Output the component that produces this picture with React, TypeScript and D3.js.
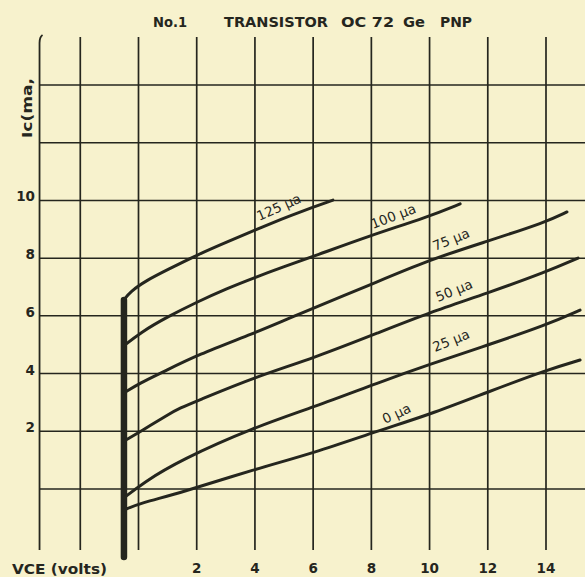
import React from "react";
import * as d3 from "d3";

const W = 585;
const H = 577;

// axis / grid values
const gridVolts = [-2, 0, 2, 4, 6, 8, 10, 12, 14];
const gridMa = [0, 2, 4, 6, 8, 10, 12, 14];
const xTickLabels = [2, 4, 6, 8, 10, 12, 14];
const yTickLabels = [2, 4, 6, 8, 10];
const frameVolts = -3.4;
const gridTopMa = 15.66;
const gridBottomMa = -2.11;

// saturation (knee) line
const kneeVolts = -0.5;
const kneeMa = [-2.36, 6.55];

// collector curves: [VCE volts, Ic mA]
const curve125 = [[-0.5, 6.55], [-0.3, 6.83], [0.29, 7.24], [0.98, 7.59], [2.01, 8.11], [3.04, 8.56], [4.0, 8.97], [4.96, 9.37], [5.55, 9.6], [6.68, 10.01]];
const curve100 = [[-0.5, 4.96], [0.05, 5.41], [0.98, 5.96], [2.01, 6.48], [3.04, 6.95], [4.0, 7.33], [4.96, 7.69], [6.06, 8.08], [7.95, 8.78], [9.95, 9.43], [11.05, 9.88]];
const curve75 = [[-0.5, 3.33], [0.05, 3.67], [0.84, 4.05], [2.01, 4.64], [4.0, 5.41], [5.2, 5.93], [7.95, 7.07], [9.95, 7.93], [12.0, 8.59], [14.0, 9.25], [14.72, 9.6]];
const curve50 = [[-0.5, 1.66], [0.15, 2.04], [0.98, 2.56], [1.43, 2.81], [2.01, 3.05], [4.0, 3.88], [6.03, 4.54], [8.3, 5.44], [9.95, 6.1], [12.0, 6.79], [14.0, 7.52], [15.1, 8.0]];
const curve25 = [[-0.5, -0.31], [0.15, 0.21], [1.43, 1.0], [4.0, 2.15], [6.03, 2.84], [8.3, 3.71], [9.95, 4.3], [12.0, 4.99], [14.0, 5.68], [15.17, 6.2]];
const curve0 = [[-0.5, -0.73], [0.05, -0.49], [1.43, -0.14], [4.0, 0.69], [6.03, 1.25], [8.3, 2.04], [9.95, 2.56], [12.0, 3.36], [14.0, 4.12], [15.17, 4.47]];
const curves = [curve125, curve100, curve75, curve50, curve25, curve0];

// curve labels: text, baseline start (volts, mA), angle
const labelTexts = ["125 μa", "100 μa", "75 μa", "50 μa", "25 μa", "0 μa"];
const labelVolts = [4.15, 8.06, 10.19, 10.29, 10.19, 8.47];
const labelMa = [9.29, 9.01, 8.25, 6.48, 4.75, 2.25];
const labelAngles = [-24, -21, -22, -22, -22, -25];

const titleParts = ["No.1", "TRANSISTOR", "OC 72", "Ge", "PNP"];
const titleX = [153, 224, 341, 403, 440];
const titleW = [34, 104, 53, 22, 32];

const INK = "#25261e";
const PAPER = "#f7f2cd";
const FONT = "'DejaVu Sans', sans-serif";

export default function App() {
  const x = d3.scaleLinear().domain([0, 14]).range([138.5, 546]);
  const y = d3.scaleLinear().domain([0, 14]).range([489, 85]);
  const line = d3
    .line<number[]>()
    .x((d) => x(d[0]))
    .y((d) => y(d[1]))
    .curve(d3.curveBasis);

  return (
    <svg
      width={W}
      height={H}
      style={{ position: "absolute", left: 0, top: 0, background: PAPER }}
    >
      <rect x={0} y={0} width={W} height={H} fill={PAPER} />
      {/* title */}
      {titleParts.map((t, i) => (
        <text
          key={t}
          x={titleX[i]}
          y={27}
          fontFamily={FONT}
          fontSize={14}
          fill={INK}
          fontWeight={600}
          textLength={titleW[i]}
          lengthAdjust="spacingAndGlyphs"
        >
          {t}
        </text>
      ))}
      {/* horizontal grid */}
      {gridMa.map((m) => (
        <line key={"h" + m} x1={x(frameVolts)} x2={W} y1={y(m)} y2={y(m)} stroke={INK} strokeWidth={1.5} />
      ))}
      {/* frame line */}
      <path
        d={`M${x(frameVolts)},${y(gridBottomMa)} L${x(frameVolts)},${y(gridTopMa) + 6} Q${x(frameVolts)},${y(gridTopMa)} ${x(frameVolts) + 3},${y(gridTopMa) - 2}`}
        fill="none"
        stroke={INK}
        strokeWidth={1.8}
      />
      {/* vertical grid */}
      {gridVolts.map((v) => (
        <line key={"v" + v} x1={x(v)} x2={x(v)} y1={y(gridTopMa)} y2={y(gridBottomMa)} stroke={INK} strokeWidth={1.7} />
      ))}
      {/* knee line */}
      <line
        x1={x(kneeVolts)}
        x2={x(kneeVolts)}
        y1={y(kneeMa[0])}
        y2={y(kneeMa[1])}
        stroke={INK}
        strokeWidth={6.5}
        strokeLinecap="round"
      />
      {/* curves */}
      {curves.map((c, i) => (
        <path key={"c" + i} d={line(c) || ""} fill="none" stroke={INK} strokeWidth={3} strokeLinecap="round" strokeLinejoin="round" />
      ))}
      {/* curve labels */}
      {labelTexts.map((t, i) => (
        <text
          key={t}
          transform={`translate(${x(labelVolts[i])},${y(labelMa[i])}) rotate(${labelAngles[i]})`}
          fontFamily={FONT}
          fontSize={13.5}
          fill={INK}
        >
          {t}
        </text>
      ))}
      {/* y tick labels */}
      {yTickLabels.map((m) => (
        <text key={"yl" + m} x={35} y={y(m) - 3} textAnchor="end" dominantBaseline="middle" fontFamily={FONT} fontSize={13.5} fontWeight={600} fill={INK}>
          {m}
        </text>
      ))}
      {/* x tick labels */}
      {xTickLabels.map((v) => (
        <text key={"xl" + v} x={x(v)} y={573} textAnchor="middle" fontFamily={FONT} fontSize={13.5} fontWeight={600} fill={INK}>
          {v}
        </text>
      ))}
      {/* axis titles */}
      <text x={12} y={574} fontFamily={FONT} fontSize={14} fontWeight={600} fill={INK} textLength={95} lengthAdjust="spacingAndGlyphs">
        VCE (volts)
      </text>
      <text
        transform={`translate(32,108) rotate(-90)`}
        textAnchor="middle"
        fontFamily={FONT}
        fontSize={13.5}
        fontWeight={600}
        fill={INK}
        textLength={60}
        lengthAdjust="spacingAndGlyphs"
      >
        Ic(ma,
      </text>
    </svg>
  );
}
